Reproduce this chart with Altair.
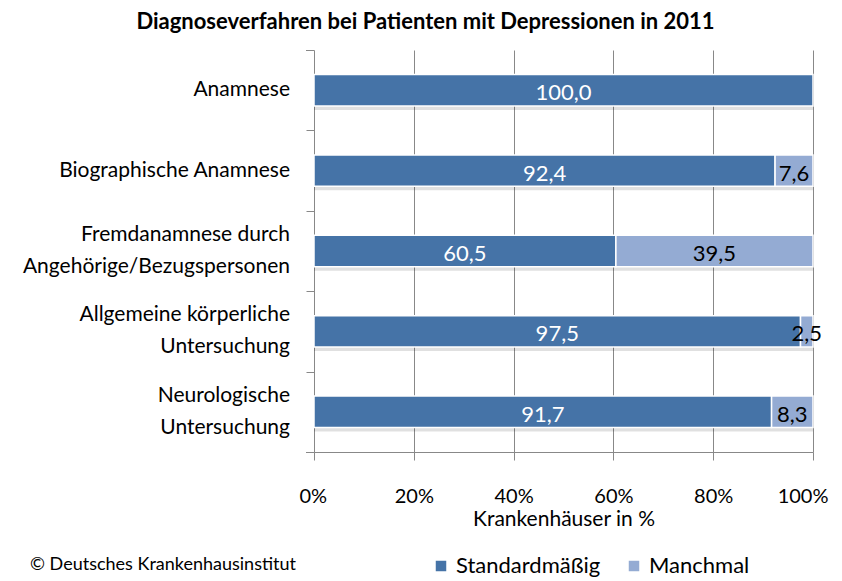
import altair as alt
import pandas as pd

categories = [
    "Anamnese",
    "Biographische Anamnese",
    "Fremdanamnese durch|Angehörige/Bezugspersonen",
    "Allgemeine körperliche|Untersuchung",
    "Neurologische|Untersuchung",
]
standard = [100.0, 92.4, 60.5, 97.5, 91.7]
manchmal = [0.0, 7.6, 39.5, 2.5, 8.3]
series = ["Standardmäßig", "Manchmal"]
colors = ["#4573A7", "#94ABD3"]
x_ticks = [0, 20, 40, 60, 80, 100]

rows = []
for c, s, m in zip(categories, standard, manchmal):
    for name, v, start in ((series[0], s, 0.0), (series[1], m, s)):
        rows.append({
            "cat": c, "series": name, "value": v,
            "start": start, "end": start + v, "mid": start + v / 2,
            "label": f"{v:.1f}".replace(".", ","),
        })
df = pd.DataFrame(rows)

lab_rows = []
for c in categories:
    parts = c.split("|")
    if len(parts) == 1:
        lab_rows.append({"cat": c, "txt": parts[0], "pos": "single"})
    else:
        lab_rows.append({"cat": c, "txt": parts[0], "pos": "top"})
        lab_rows.append({"cat": c, "txt": parts[1], "pos": "bottom"})
labels_df = pd.DataFrame(lab_rows)

FONT = "Lato"
STEP = 402 / 5
AXIS_GRAY = "#888888"

y_scale = alt.Scale(domain=categories, paddingInner=0.61, paddingOuter=0.305)
y_enc = alt.Y(
    "cat:N", sort=categories, title=None, scale=y_scale,
    axis=alt.Axis(
        labels=False, tickOffset=STEP / 2, tickSize=8, tickColor=AXIS_GRAY,
        domainColor=AXIS_GRAY, grid=False,
    ),
)
x_scale = alt.Scale(domain=[0, 100], nice=False)

shadow = alt.Chart(df).mark_bar(color="#000000", opacity=0.12, yOffset=4).encode(
    x=alt.X("start:Q", scale=x_scale),
    x2="end:Q",
    y=y_enc,
)

bars = alt.Chart(df).transform_filter("datum.value > 0").mark_bar(
    stroke="#ffffff", strokeWidth=1.5
).encode(
    x=alt.X(
        "start:Q", scale=x_scale, title="Krankenhäuser in %",
        axis=alt.Axis(
            values=x_ticks, labelExpr="datum.value + '%'",
            labelFlush=True, labelFlushOffset=15,
            labelFontSize=20, labelFont=FONT, labelColor="#000000",
            labelPadding=26, tickSize=8, tickColor=AXIS_GRAY,
            domainColor=AXIS_GRAY, gridColor=AXIS_GRAY, grid=True,
            titleFontSize=21, titleFont=FONT, titleFontWeight="normal",
            titleColor="#000000", titlePadding=2,
        ),
    ),
    x2="end:Q",
    y=y_enc,
    color=alt.Color(
        "series:N", scale=alt.Scale(domain=series, range=colors), title=None,
        legend=alt.Legend(
            orient="none", legendX=116, legendY=505, direction="horizontal",
            symbolType="square", symbolSize=110, labelFontSize=22,
            labelFont=FONT, labelColor="#000000", columnPadding=22,
            symbolStrokeWidth=0, labelLimit=300,
        ),
    ),
)

text = alt.Chart(df).transform_filter("datum.value > 0").mark_text(
    fontSize=22, font=FONT, dy=3
).encode(
    x=alt.X("mid:Q", scale=x_scale),
    y=alt.Y("cat:N", sort=categories, scale=y_scale),
    text="label:N",
    color=alt.Color("series:N", scale=alt.Scale(domain=series, range=["#ffffff", "#000000"]), legend=None),
)


def cat_labels(pos, dy):
    return alt.Chart(labels_df).transform_filter(f"datum.pos == '{pos}'").mark_text(
        fontSize=21, font=FONT, align="right", baseline="middle", color="#000000", dy=dy
    ).encode(
        x=alt.value(-24),
        y=alt.Y("cat:N", sort=categories, scale=y_scale),
        text="txt:N",
    )


# axis tick at the top of the category axis, and the left extension of the x-axis line
top_tick = alt.Chart(pd.DataFrame({"k": [0]})).mark_rule(color=AXIS_GRAY).encode(
    x=alt.value(-8), x2=alt.value(0), y=alt.value(0.5),
)
bottom_tick = alt.Chart(pd.DataFrame({"k": [0]})).mark_rule(color=AXIS_GRAY).encode(
    x=alt.value(-8), x2=alt.value(0), y=alt.value(402.5),
)

credit = alt.Chart(pd.DataFrame({"t": ["© Deutsches Krankenhausinstitut"]})).mark_text(
    fontSize=18, font=FONT, align="left", baseline="middle", color="#000000"
).encode(x=alt.value(-284), y=alt.value(515), text="t:N")

chart = alt.layer(
    shadow, bars, text,
    cat_labels("single", 0), cat_labels("top", -16), cat_labels("bottom", 16),
    top_tick, bottom_tick, credit,
).resolve_scale(color="independent").properties(
    width=499, height=402,
    title=alt.TitleParams(
        "Diagnoseverfahren bei Patienten mit Depressionen in 2011",
        fontSize=22, font=FONT, fontWeight="bold", color="#000000",
        anchor="middle", dx=-138, offset=16,
    ),
    autosize=alt.AutoSizeParams(type="none"),
    padding={"left": 306, "top": 42, "right": 20, "bottom": 128},
).configure_view(stroke=None)

chart.save("out.html", embed_options={"renderer": "svg", "actions": False})
